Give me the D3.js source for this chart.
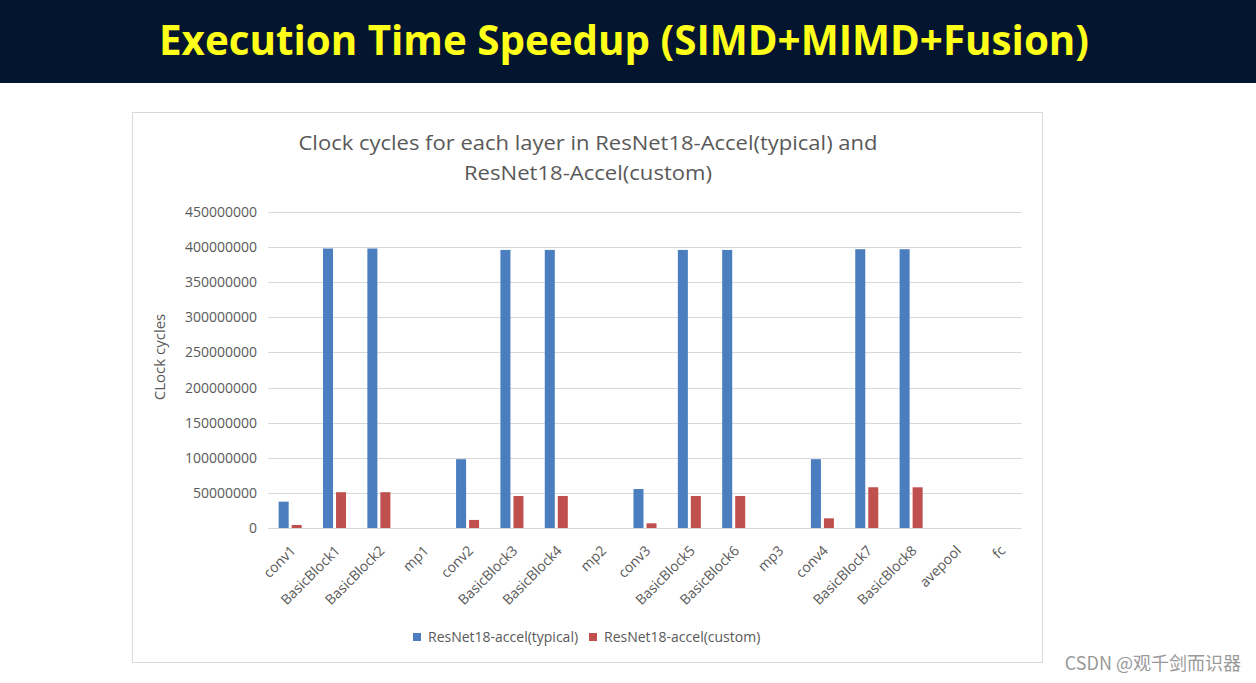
<!DOCTYPE html>
<html><head><meta charset="utf-8">
<script src="https://cdn.jsdelivr.net/npm/d3@7"></script>
<style>html,body{margin:0;padding:0;background:#fff;}svg{display:block;}</style>
</head><body>
<svg id="c" width="1256" height="683"></svg>
<script>
const categories = ["conv1","BasicBlock1","BasicBlock2","mp1","conv2","BasicBlock3","BasicBlock4","mp2","conv3","BasicBlock5","BasicBlock6","mp3","conv4","BasicBlock7","BasicBlock8","avepool","fc"];
const seriesNames = ["ResNet18-accel(typical)","ResNet18-accel(custom)"];
const typical = [37500000,398000000,398000000,0,98000000,396000000,396000000,0,55500000,396000000,396000000,0,98000000,397000000,397000000,0,0];
const custom  = [4300000,51000000,51000000,0,11500000,45600000,45600000,0,6700000,45600000,45600000,0,13800000,58000000,58000000,0,0];
const yTicks = [0,50000000,100000000,150000000,200000000,250000000,300000000,350000000,400000000,450000000];
const colors = ["#4a7ebf","#c0504d"];

const svg = d3.select("#c");
// header
svg.append("rect").attr("x",0).attr("y",0).attr("width",1256).attr("height",83).attr("fill","#03152f");
svg.append("text").attr("x",624).attr("y",55).attr("text-anchor","middle")
  .attr("font-family","'Open Sans', sans-serif").attr("font-weight","bold").attr("font-size",42)
  .attr("fill","#ffff1a").attr("textLength",930).attr("lengthAdjust","spacingAndGlyphs")
  .text("Execution Time Speedup (SIMD+MIMD+Fusion)");

// chart box
svg.append("rect").attr("x",132.5).attr("y",112.5).attr("width",910).attr("height",550)
  .attr("fill","#fff").attr("stroke","#d9d9d9");

const gray = "#595959";
const font = "'Open Sans', sans-serif";
const title = ["Clock cycles for each layer in ResNet18-Accel(typical) and","ResNet18-Accel(custom)"];
svg.append("text").attr("x",588).attr("y",150).attr("text-anchor","middle").attr("font-family",font)
  .attr("font-size",20).attr("fill",gray).attr("textLength",579).attr("lengthAdjust","spacingAndGlyphs").text(title[0]);
svg.append("text").attr("x",588).attr("y",180).attr("text-anchor","middle").attr("font-family",font)
  .attr("font-size",20).attr("fill",gray).attr("textLength",248).attr("lengthAdjust","spacingAndGlyphs").text(title[1]);

const x0 = d3.scaleBand().domain(categories).range([268,1022]).padding(0);
const x1 = d3.scaleBand().domain(seriesNames).range([0,x0.bandwidth()]).paddingInner(0.23).paddingOuter(0.82);
const y = d3.scaleLinear().domain([0,450000000]).range([528,212]);

// gridlines
svg.append("g").selectAll("line").data(yTicks).join("line")
  .attr("x1",268).attr("x2",1022).attr("y1",d=>Math.round(y(d))+0.5).attr("y2",d=>Math.round(y(d))+0.5)
  .attr("stroke","#d9d9d9").attr("stroke-width",1);

// y axis labels
const yAxis = d3.axisLeft(y).tickValues(yTicks).tickFormat(d=>String(d)).tickSize(0).tickPadding(0);
const ya = svg.append("g").attr("transform","translate(257,0)").call(yAxis);
ya.select(".domain").remove();
ya.selectAll("text").attr("font-family",font).attr("font-size",14).attr("fill",gray);

svg.append("text").attr("transform","translate(165,357) rotate(-90)").attr("text-anchor","middle")
  .attr("font-family",font).attr("font-size",15).attr("fill",gray).text("CLock cycles");

// bars
const data = categories.map((c,i)=>({c, vals:[typical[i],custom[i]]}));
const groups = svg.append("g").selectAll("g").data(data).join("g").attr("transform",d=>`translate(${x0(d.c)},0)`);
groups.selectAll("rect").data(d=>d.vals.map((v,j)=>({s:seriesNames[j],v,j}))).join("rect")
  .attr("x",d=>x1(d.s)).attr("width",x1.bandwidth())
  .attr("y",d=>y(d.v)).attr("height",d=>y(0)-y(d.v)).attr("fill",d=>colors[d.j]);

// x axis labels
const xAxis = d3.axisBottom(x0).tickSize(0).tickPadding(0);
const xa = svg.append("g").attr("transform","translate(0,548)").call(xAxis);
xa.select(".domain").remove();
xa.selectAll("text").attr("font-family",font).attr("font-size",14).attr("fill",gray)
  .attr("text-anchor","end").attr("dy","0.35em").attr("transform","translate(3,0) rotate(-45)");

// legend
const leg = svg.append("g").attr("transform","translate(413,637)");
const legX = [0,176];
seriesNames.forEach((n,i)=>{
  leg.append("rect").attr("x",legX[i]).attr("y",-4).attr("width",8).attr("height",8).attr("fill",colors[i]);
  leg.append("text").attr("x",legX[i]+15).attr("y",0).attr("dy","0.35em").attr("font-family",font)
    .attr("font-size",14).attr("fill",gray).text(n);
});

// watermark
svg.append("text").attr("x",1241).attr("y",670).attr("text-anchor","end")
  .attr("font-family","'Noto Sans CJK SC', sans-serif").attr("font-size",18).attr("fill","#999999")
  .text("CSDN @观千剑而识器");
</script>
</body></html>
